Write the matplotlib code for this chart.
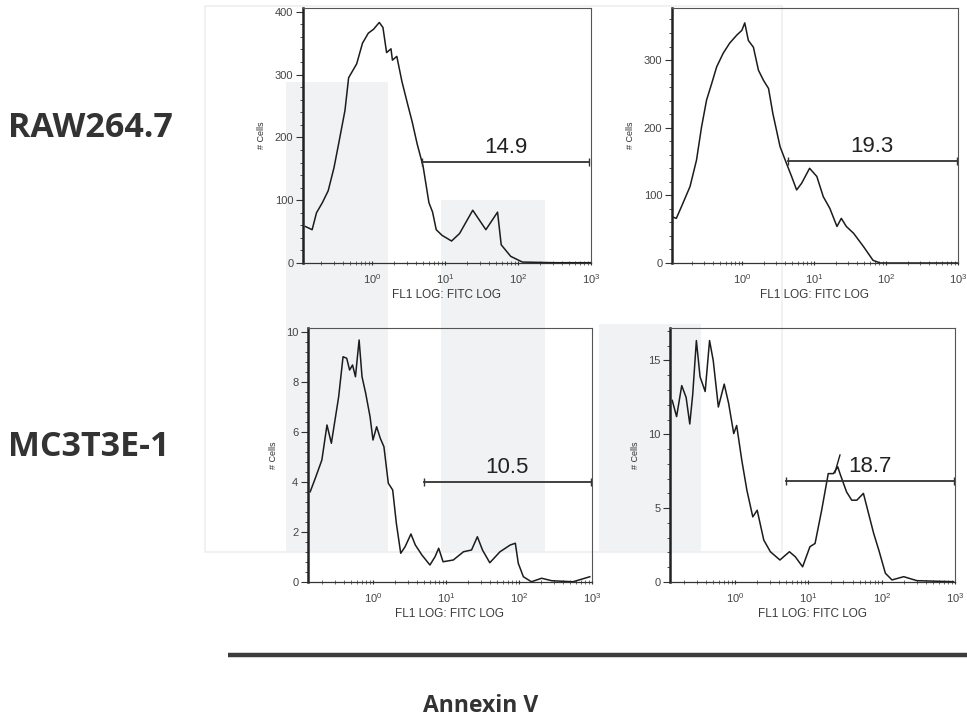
import numpy as np
import matplotlib
matplotlib.use("Agg")
import matplotlib.pyplot as plt
from matplotlib.patches import Rectangle
from matplotlib.ticker import LogLocator, NullFormatter, AutoMinorLocator, FixedLocator

# --- histogram data (x given as log10 of FL1 intensity, y = # cells) ---
raw_ctrl_log = [-0.91, -0.82, -0.76, -0.68, -0.60, -0.52, -0.45, -0.37, -0.32, -0.21,
                -0.13, -0.05, 0.02, 0.10, 0.15, 0.20, 0.26, 0.28, 0.34, 0.41,
                0.49, 0.55, 0.62, 0.70, 0.78, 0.83, 0.88, 0.96, 1.09, 1.20,
                1.38, 1.56, 1.72, 1.77, 1.90, 2.06, 2.50, 3.00]
raw_ctrl_cells = [58, 53, 80, 96, 115, 152, 194, 243, 295, 317,
                  350, 366, 372, 383, 375, 335, 341, 323, 329, 289,
                  252, 225, 189, 154, 96, 81, 53, 44, 35, 47,
                  84, 53, 81, 29, 10.6, 1.5, 0.5, 0.5]

raw_trt_log = [-0.96, -0.91, -0.84, -0.72, -0.63, -0.56, -0.49, -0.42, -0.35, -0.26,
               -0.17, -0.07, 0.00, 0.04, 0.09, 0.16, 0.23, 0.30, 0.37, 0.43,
               0.53, 0.62, 0.69, 0.76, 0.83, 0.94, 1.04, 1.13, 1.22, 1.32,
               1.38, 1.45, 1.55, 1.69, 1.82, 1.92, 3.00]
raw_trt_cells = [68, 66, 83, 113, 152, 201, 241, 265, 290, 310,
                 325, 337, 344, 355, 329, 319, 285, 270, 258, 221,
                 172, 147, 128, 108, 118, 140, 128, 98, 81, 54,
                 66, 54, 44, 24, 4, 0, 0]

mc_ctrl_log = [-0.86, -0.79, -0.70, -0.63, -0.57, -0.47, -0.41, -0.36, -0.32, -0.28,
               -0.24, -0.19, -0.15, -0.10, -0.04, 0.00, 0.05, 0.10, 0.15, 0.21,
               0.27, 0.32, 0.38, 0.44, 0.52, 0.58, 0.67, 0.78, 0.85, 0.90,
               0.96, 1.10, 1.24, 1.35, 1.43, 1.50, 1.60, 1.74, 1.88, 1.95,
               1.99, 2.06, 2.17, 2.31, 2.45, 2.74, 2.97]
mc_ctrl_cells = [3.61, 4.15, 4.88, 6.28, 5.55, 7.41, 9.01, 8.95, 8.48, 8.68,
                 8.21, 9.68, 8.21, 7.55, 6.61, 5.68, 6.21, 5.75, 5.41, 3.95,
                 3.68, 2.35, 1.15, 1.41, 1.92, 1.48, 1.08, 0.68, 1.01, 1.35,
                 0.81, 0.88, 1.21, 1.28, 1.81, 1.28, 0.77, 1.21, 1.48, 1.55,
                 0.75, 0.21, 0.01, 0.15, 0.05, 0.01, 0.21]

mc_trt_log = [-0.86, -0.80, -0.73, -0.67, -0.62, -0.58, -0.53, -0.48, -0.41, -0.35,
              -0.30, -0.23, -0.15, -0.09, -0.02, 0.02, 0.09, 0.16, 0.24, 0.30,
              0.39, 0.48, 0.61, 0.74, 0.82, 0.92, 1.02, 1.09, 1.18, 1.27,
              1.34, 1.40, 1.43, 1.52, 1.59, 1.66, 1.75, 1.82, 1.89, 1.96,
              2.05, 2.14, 2.30, 2.48, 2.98]
mc_trt_cells = [12.3, 11.2, 13.3, 12.5, 10.7, 12.7, 16.35, 13.9, 12.9, 16.35,
                15.0, 11.85, 13.4, 12.1, 10.05, 10.6, 8.24, 6.2, 4.41, 4.86,
                2.84, 2.05, 1.49, 2.05, 1.71, 1.03, 2.39, 2.61, 4.86, 7.34,
                7.34, 7.8, 7.34, 6.1, 5.54, 5.54, 6.0, 4.64, 3.29, 2.16,
                0.59, 0.14, 0.36, 0.09, 0.02]

# gate: start/end (log10), height, percent positive
gate_start = [0.69, 0.64, 0.70, 0.70]
gate_end = [2.97, 2.98, 2.98, 2.98]
gate_level = [161, 151, 4.01, 6.85]
gate_pct = ["14.9", "19.3", "10.5", "18.7"]

y_max = [406, 377, 10.16, 17.2]
y_ticks = [[0, 100, 200, 300, 400], [0, 100, 200, 300],
           [0, 2, 4, 6, 8, 10], [0, 5, 10, 15]]
x_left_log = [-0.945, -0.97, -0.89, -0.89]

row_labels = ["RAW264.7", "MC3T3E-1"]

W, H = 967, 724
fig = plt.figure(figsize=(W / 100, H / 100), dpi=100)


def rect(x0, y0, x1, y1):
    # pixel box (top-left origin) -> figure fraction
    return [x0 / W, 1 - y1 / H, (x1 - x0) / W, (y1 - y0) / H]


# faint background layer
bg = fig.add_axes([0, 0, 1, 1], zorder=-5)
bg.set_xlim(0, W)
bg.set_ylim(H, 0)
bg.axis("off")
for (bx0, by0, bx1, by1) in [(286, 82, 388, 552), (441, 200, 545, 552), (599, 324, 701, 552)]:
    bg.add_patch(Rectangle((bx0, by0), bx1 - bx0, by1 - by0, facecolor="#f0f2f4",
                           edgecolor="none"))
bg.add_patch(Rectangle((205, 6), 577, 546, facecolor="none", edgecolor="#eeeff1", lw=1.2))
bg.plot([228, 967], [655, 655], color="#3c3c3c", lw=3.2, solid_capstyle="butt")

boxes = [(303, 8, 591, 263), (672, 8, 958, 263), (308, 328, 592, 582), (670, 328, 955, 582)]
series = [(raw_ctrl_log, raw_ctrl_cells), (raw_trt_log, raw_trt_cells),
          (mc_ctrl_log, mc_ctrl_cells), (mc_trt_log, mc_trt_cells)]

for i, box in enumerate(boxes):
    ax = fig.add_axes(rect(*box))
    ax.set_facecolor("none")
    lx, cy = series[i]
    ax.plot(10 ** np.array(lx), cy, color="#1c1c1c", lw=1.1)

    ax.set_xscale("log")
    ax.set_xlim(10 ** x_left_log[i], 1000)
    ax.set_ylim(0, y_max[i])
    ax.xaxis.set_major_locator(FixedLocator([1, 10, 100, 1000]))
    ax.xaxis.set_minor_locator(LogLocator(base=10, subs=np.arange(2, 10), numticks=20))
    ax.xaxis.set_minor_formatter(NullFormatter())
    ax.set_yticks(y_ticks[i])
    ax.yaxis.set_minor_locator(AutoMinorLocator(5))

    ax.tick_params(axis="x", which="major", length=3, width=0.8, direction="inout",
                   pad=5, labelsize=8, labelcolor="#444444", color="#333333")
    ax.tick_params(axis="x", which="minor", length=2.5, width=0.6, direction="inout",
                   color="#555555")
    ax.tick_params(axis="y", which="major", length=5, width=0.8, direction="out",
                   pad=2, labelsize=8, labelcolor="#444444", color="#333333")
    ax.tick_params(axis="y", which="minor", length=2, width=0.6, direction="out",
                   color="#333333")
    for lab in ax.get_xticklabels() + ax.get_yticklabels():
        lab.set_fontfamily("Liberation Sans")

    ax.spines["left"].set_linewidth(1.8)
    ax.spines["left"].set_color("#222222")
    ax.spines["bottom"].set_linewidth(0.9)
    ax.spines["bottom"].set_color("#333333")
    for s in ("top", "right"):
        ax.spines[s].set_linewidth(0.8)
        ax.spines[s].set_color("#555555")

    ax.set_ylabel("# Cells", fontsize=6.5, family="Liberation Sans", color="#333333",
                  labelpad=6)
    ax.set_xlabel("FL1 LOG: FITC LOG", fontsize=8.5, family="Liberation Sans",
                  color="#3a3a3a", labelpad=2)

    # positive gate
    g0, g1 = 10 ** gate_start[i], 10 ** gate_end[i]
    ax.plot([g0, g1], [gate_level[i]] * 2, color="#333333", lw=1.3)
    ax.plot([g0, g1], [gate_level[i]] * 2, ls="none", marker="|", ms=6, mew=1.0,
            color="#333333")
    gx = 10 ** ((gate_start[i] + gate_end[i]) / 2)
    ax.annotate(gate_pct[i], (gx, gate_level[i]), xytext=(0, 3), textcoords="offset points",
                ha="center", va="bottom", fontsize=16, family="Liberation Sans",
                color="#222222")

    if i == 3:
        ax.plot([10 ** 1.36, 10 ** 1.43], [7.4, 8.6], color="#1c1c1c", lw=1.0)

# row labels
fig.text(8 / W, 1 - 128 / H, row_labels[0], fontsize=24.5, fontweight="bold",
         family="Open Sans", color="#333333", va="center", ha="left")
fig.text(8 / W, 1 - 447 / H, row_labels[1], fontsize=24.5, fontweight="bold",
         family="Open Sans", color="#333333", va="center", ha="left")

fig.text(481 / W, 1 - 706 / H, "Annexin V", fontsize=16.5, fontweight="bold",
         family="Open Sans", color="#333333", va="center", ha="center")

fig.savefig("out.png", dpi=100)
